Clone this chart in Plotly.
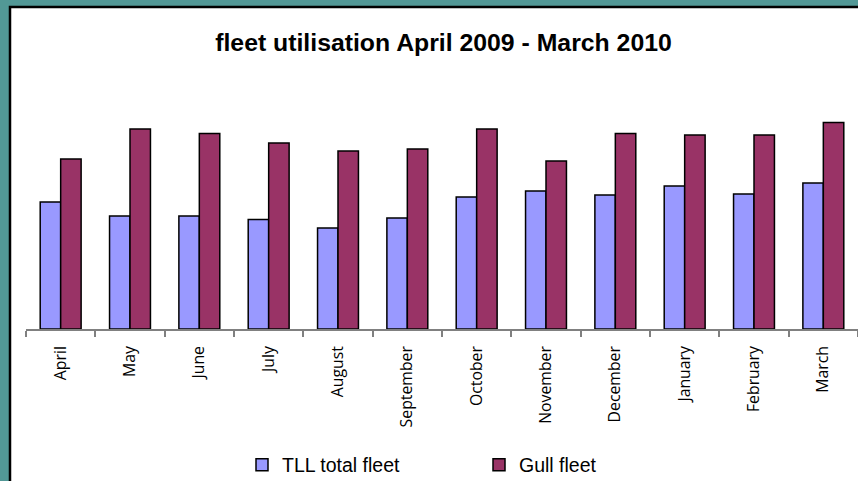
import plotly.graph_objects as go

months = ["April", "May", "June", "July", "August", "September", "October",
          "November", "December", "January", "February", "March"]
tll_total_fleet = [127, 113, 113, 109.5, 101, 111, 132, 138, 134, 143, 135, 146]
gull_fleet = [170, 200, 195.5, 186, 178, 180, 200, 168, 195.5, 194, 194, 206.5]

W, H = 858, 481
L, R, T, B = 26, 0, 69, 152
pw, ph = W - L - R, H - T - B

def px_x(x):
    return (x - L) / pw

def px_y(y):
    return (H - B - y) / ph

fig = go.Figure()
fig.add_trace(go.Bar(x=months, y=tll_total_fleet, name="TLL total fleet",
                     marker=dict(color="#9999FF", line=dict(color="#000000", width=1.5))))
fig.add_trace(go.Bar(x=months, y=gull_fleet, name="Gull fleet",
                     marker=dict(color="#993366", line=dict(color="#000000", width=1.5))))

fig.update_layout(
    width=W, height=H,
    margin=dict(l=L, r=R, t=T, b=B, pad=0, autoexpand=False),
    paper_bgcolor="#529896",
    plot_bgcolor="rgba(0,0,0,0)",
    barmode="group",
    bargap=0.41,
    bargroupgap=0,
    title=dict(text="<b>fleet utilisation April 2009 - March 2010</b>",
               x=443.5 / W, xanchor="center", xref="container",
               y=1 - 42 / H, yanchor="middle", yref="container",
               font=dict(family="Liberation Sans, Arial", size=24.8, color="#000000")),
    font=dict(family="Liberation Sans, Arial", color="#000000"),
    xaxis=dict(type="category", tickangle=-90, showgrid=False,
               showline=True, linecolor="#808080", linewidth=1.5,
               ticks="outside", tickson="boundaries", ticklen=6,
               tickcolor="#808080", tickwidth=1.5,
               ticklabelstandoff=9,
               tickfont=dict(family="Open Sans", size=15.8, color="#000000"),
               range=[-0.5, 11.5]),
    yaxis=dict(visible=False, range=[0, 260], showgrid=False, zeroline=False),
    showlegend=True,
    legend=dict(orientation="h", x=px_x(242), xanchor="left",
                y=px_y(465), yanchor="middle",
                font=dict(family="Liberation Sans, Arial", size=19.5, color="#000000"),
                entrywidth=192, entrywidthmode="pixels",
                bgcolor="rgba(0,0,0,0)", traceorder="normal"),
    shapes=[dict(type="rect", xref="paper", yref="paper",
                 x0=px_x(10), x1=px_x(875), y0=px_y(495), y1=px_y(7),
                 fillcolor="#FFFFFF", line=dict(color="#000000", width=2.5),
                 layer="below")],
)

fig.write_html("out.html", config={"displayModeBar": False},
               post_script="document.body.style.margin='0';document.body.style.overflow='hidden';")
